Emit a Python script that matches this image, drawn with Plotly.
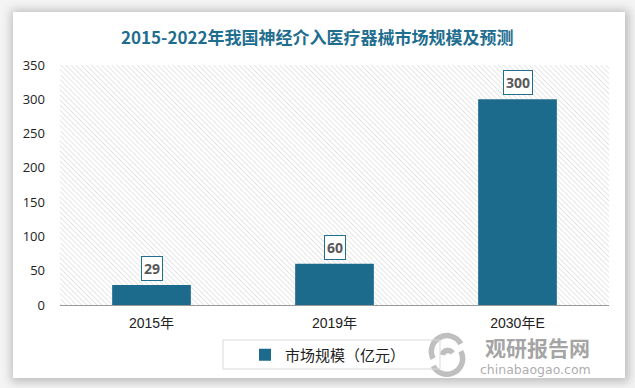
import base64
import plotly.graph_objects as go

categories = ["2015年", "2019年", "2030年E"]
values = [29, 60, 300]
series_name = "市场规模（亿元）"
title_text = "2015-2022年我国神经介入医疗器械市场规模及预测"
y_ticks = [0, 50, 100, 150, 200, 250, 300, 350]

BAR = "#1C6A8C"
TEAL = "#1F6E8F"

W, H = 635, 388
L, R, T, B = 60, 26, 65, 83
pw, ph = W - L - R, H - T - B


def px_x(p):
    return (p - L) / pw


def px_y(p):
    return (H - B - p) / ph


def data_uri(svg):
    return "data:image/svg+xml;base64," + base64.b64encode(svg.encode()).decode()


# card with soft gray frame
card_svg = (
    f'<svg xmlns="http://www.w3.org/2000/svg" width="{W}" height="{H}">'
    '<defs><filter id="s" x="-10%" y="-10%" width="120%" height="120%">'
    '<feGaussianBlur stdDeviation="5"/></filter></defs>'
    f'<rect width="{W}" height="{H}" fill="#F4F4F4"/>'
    '<rect x="11" y="10" width="618" height="372" fill="#BDBDBD" filter="url(#s)"/>'
    '<rect x="13" y="12" width="612" height="366" fill="#FFFFFF"/></svg>'
)

hatch_svg = (
    f'<svg xmlns="http://www.w3.org/2000/svg" width="{pw}" height="{ph}">'
    '<defs><pattern id="p" width="3.6" height="3.6" patternUnits="userSpaceOnUse" '
    'patternTransform="rotate(-45)">'
    '<line x1="0" y1="0" x2="0" y2="3.6" stroke="#CDCDCD" stroke-width="1"/>'
    '</pattern></defs>'
    f'<rect width="{pw}" height="{ph}" fill="url(#p)"/></svg>'
)

logo_svg = (
    '<svg xmlns="http://www.w3.org/2000/svg" width="50" height="50">'
    '<g fill="none" stroke="#B5B5B5" stroke-width="6">'
    '<path d="M10 30 A17 17 0 0 1 40 14"/>'
    '<path d="M40 22 A17 17 0 0 1 10 38"/>'
    '<path d="M20 26 A6 6 0 0 1 31 24"/></g></svg>'
)

fig = go.Figure()
fig.add_trace(go.Bar(
    x=categories, y=values, name=series_name,
    marker=dict(color=BAR, line=dict(width=0)),
    width=0.43, showlegend=True,
))

annotations = [
    dict(x=c, y=v, xref="x", yref="y", text=f"<b>{v}</b>", showarrow=False,
         yanchor="bottom", yshift=4, bgcolor="white", bordercolor=TEAL,
         borderwidth=1, borderpad=2,
         font=dict(family="Open Sans, Noto Sans CJK SC", size=14, color="#595959"))
    for c, v in zip(categories, values)
]
annotations += [
    dict(x=px_x(317), y=px_y(37), xref="paper", yref="paper", showarrow=False,
         text=f"<b>{title_text}</b>", xanchor="center", yanchor="middle",
         font=dict(family="Noto Sans CJK SC", size=17, color=TEAL)),
    dict(x=px_x(537), y=px_y(347), xref="paper", yref="paper", showarrow=False,
         text="<b>观研报告网</b>", xanchor="center", yanchor="middle",
         borderpad=0,
         font=dict(family="Noto Sans CJK SC", size=21, color="rgba(140,140,140,0.8)")),
    dict(x=px_x(535), y=px_y(369), xref="paper", yref="paper", showarrow=False,
         text="chinabaogao.com", xanchor="center", yanchor="middle", borderpad=0,
         font=dict(family="DejaVu Sans", size=12.5, color="rgba(150,150,150,0.8)")),
]

shapes = [
    dict(type="rect", xref="paper", yref="paper", layer="above",
         x0=px_x(223), x1=px_x(440), y0=px_y(369), y1=px_y(340),
         fillcolor="rgba(0,0,0,0)", line=dict(width=1, color="#d9d9d9")),
]

images = [
    dict(source=data_uri(card_svg), xref="paper", yref="paper",
         x=px_x(0), y=px_y(0), sizex=W / pw, sizey=H / ph,
         xanchor="left", yanchor="top", sizing="stretch", layer="below"),
    dict(source=data_uri(hatch_svg), xref="paper", yref="paper", x=0, y=1,
         sizex=1, sizey=1, xanchor="left", yanchor="top", sizing="stretch",
         layer="below"),
    dict(source=data_uri(logo_svg), xref="paper", yref="paper",
         x=px_x(424), y=px_y(331), sizex=46 / pw, sizey=46 / ph,
         xanchor="left", yanchor="top", sizing="stretch", layer="above",
         opacity=0.85),
]

fig.update_layout(
    width=W, height=H,
    margin=dict(l=L, r=R, t=T, b=B, autoexpand=False),
    paper_bgcolor="white",
    plot_bgcolor="rgba(0,0,0,0)",
    font=dict(family="Open Sans, Noto Sans CJK SC", color="#333333", size=13),
    xaxis=dict(showgrid=False, showline=True, linecolor="#999999", linewidth=1,
               ticks="", ticklabelstandoff=5,
               tickfont=dict(size=14, color="#222222",
                             family="Liberation Sans, Noto Sans CJK SC")),
    yaxis=dict(range=[0, 350], tickvals=y_ticks, showgrid=False, zeroline=False,
               showline=False, ticks="", ticklabelstandoff=14,
               tickfont=dict(size=13, color="#222222", family="Open Sans")),
    legend=dict(orientation="h", x=px_x(328), y=px_y(355), xanchor="center",
                yanchor="middle", bgcolor="rgba(0,0,0,0)", borderwidth=0,
                font=dict(size=15, color="#222222", family="Noto Sans CJK SC"),
                itemwidth=30),
    images=images,
    annotations=annotations,
    shapes=shapes,
)

fig.write_html("out.html", config={"displayModeBar": False},
               post_script="document.body.style.margin='0';document.body.style.overflow='hidden';")
